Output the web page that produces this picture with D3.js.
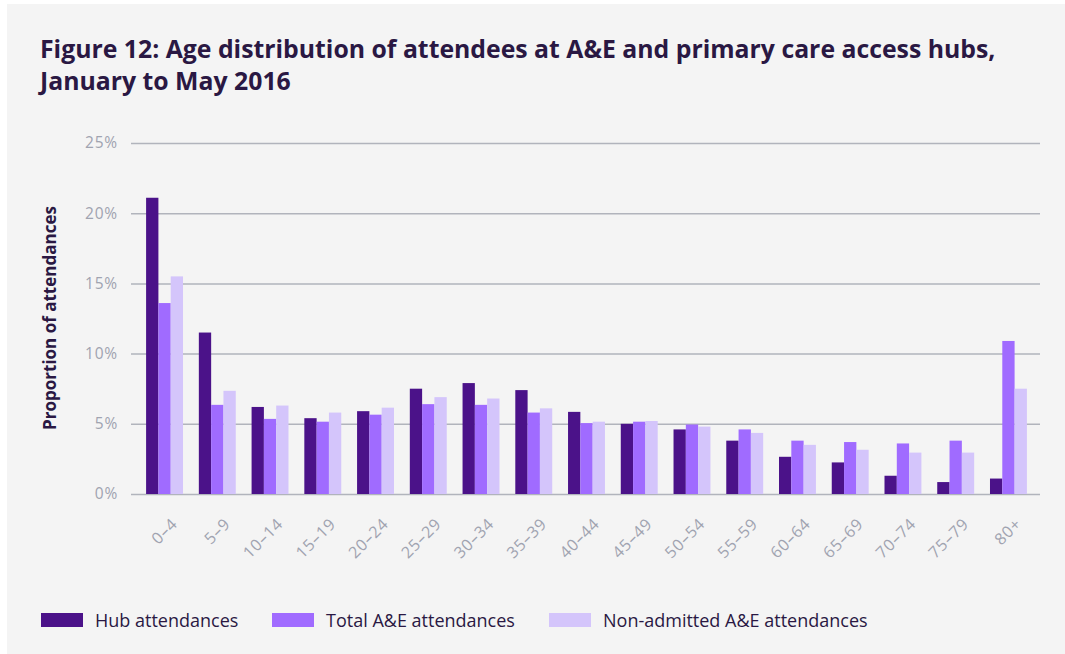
<!DOCTYPE html>
<html>
<head>
<meta charset="utf-8">
<script src="https://cdnjs.cloudflare.com/ajax/libs/d3/7.8.5/d3.min.js"></script>
<style>
  body { margin: 0; background: #fff; }
  text { font-family: "Open Sans", Lato, sans-serif; }
</style>
</head>
<body>
<script>
// age bands and the three series (percent of attendances)
var ages = ["0–4","5–9","10–14","15–19","20–24","25–29","30–34","35–39","40–44",
            "45–49","50–54","55–59","60–64","65–69","70–74","75–79","80+"];
var hub = [21.1,11.5,6.2,5.4,5.9,7.5,7.9,7.4,5.85,5.0,4.6,3.8,2.65,2.25,1.3,0.85,1.1];
var total = [13.6,6.35,5.35,5.15,5.65,6.4,6.35,5.8,5.05,5.15,4.95,4.6,3.8,3.7,3.6,3.8,10.9];
var nonAdmitted = [15.5,7.35,6.3,5.8,6.15,6.9,6.8,6.1,5.15,5.2,4.8,4.35,3.5,3.15,2.95,2.95,7.5];
var yTicks = [0,5,10,15,20,25];
var seriesNames = ["Hub attendances","Total A&E attendances","Non-admitted A&E attendances"];
var seriesColors = ["#4b1289","#a06bff","#d4c5fb"];

var width = 1065, height = 654;
var svg = d3.select('body').append('svg')
      .attr('width', width)
      .attr('height', height);

svg.append('rect')
   .attr('x', 7).attr('y', 4)
   .attr('width', width - 7).attr('height', height - 4)
   .attr('fill', '#f4f4f4');

// title
var title = svg.append('text')
   .attr('fill', '#2a1843')
   .style('font-size', '24.8px')
   .style('font-weight', 'bold');
title.append('tspan').attr('x', 40).attr('y', 58)
   .text('Figure 12: Age distribution of attendees at A&E and primary care access hubs,');
title.append('tspan').attr('x', 40).attr('y', 90)
   .text('January to May 2016');

var y = d3.scaleLinear().domain([0, 25]).range([494, 143]);
var x = d3.scaleBand().domain(ages).range([125, 1048]).paddingInner(0.3).paddingOuter(0.4);
var xs = d3.scaleBand().domain(d3.range(3)).range([0, x.bandwidth()]);

// gridlines + tick labels
var yAxis = svg.append('g').attr('transform', 'translate(131,0)')
   .call(d3.axisLeft(y).tickValues(yTicks).tickSize(-(1040 - 131)).tickPadding(13)
         .tickFormat(function (d) { return d + '%'; }));
yAxis.select('.domain').remove();
yAxis.selectAll('line').attr('stroke', '#b1b4bc').attr('stroke-width', 1.5);
yAxis.selectAll('text').attr('fill', '#a0a3b0').style('font-size', '15.5px')
   .style('letter-spacing', '0.8px')
   .style('font-family', '"Open Sans", sans-serif');

svg.append('text')
   .attr('transform', 'translate(56,318) rotate(-90)')
   .attr('text-anchor', 'middle')
   .attr('fill', '#2a1843')
   .style('font-size', '17px')
   .style('font-weight', 'bold')
   .text('Proportion of attendances');

// bars
var rows = ages.map(function (a, i) { return [hub[i], total[i], nonAdmitted[i]]; });
var g = svg.selectAll('g.grp')
      .data(rows)
      .enter()
      .append('g')
      .attr('class', 'grp')
      .attr('transform', function (d, i) {
        return 'translate(' + x(ages[i]) + ',0)';
      });

g.selectAll('rect')
      .data(function (d) { return d; })
      .enter()
      .append('rect')
      .attr('x', function (d, i) { return xs(i); })
      .attr('y', function (d) { return y(d); })
      .attr('width', xs.bandwidth())
      .attr('height', function (d) { return y(0) - y(d); })
      .attr('fill', function (d, i) { return seriesColors[i]; });

// x labels
var xAxis = svg.append('g').attr('transform', 'translate(0,494)')
   .call(d3.axisBottom(x).tickSize(0).tickPadding(0));
xAxis.select('.domain').remove();
xAxis.selectAll('text')
   .attr('text-anchor', 'end')
   .attr('fill', '#a0a3b0')
   .style('font-size', '16px')
   .style('letter-spacing', '0.8px')
   .style('font-family', '"Open Sans", sans-serif')
   .attr('dy', null)
   .attr('y', 0)
   .attr('transform', 'translate(14,31) rotate(-45)');

// legend
var legend = svg.selectAll('g.leg')
      .data(seriesNames)
      .enter()
      .append('g')
      .attr('class', 'leg')
      .attr('transform', function (d, i) {
        return 'translate(' + [41, 272, 549][i] + ',613)';
      });
legend.append('rect')
      .attr('width', 42).attr('height', 14)
      .attr('fill', function (d, i) { return seriesColors[i]; });
legend.append('text')
      .attr('x', 54).attr('y', 13.5)
      .attr('fill', '#2a1843')
      .style('font-size', '18px')
      .text(function (d) { return d; });
</script>
</body>
</html>
